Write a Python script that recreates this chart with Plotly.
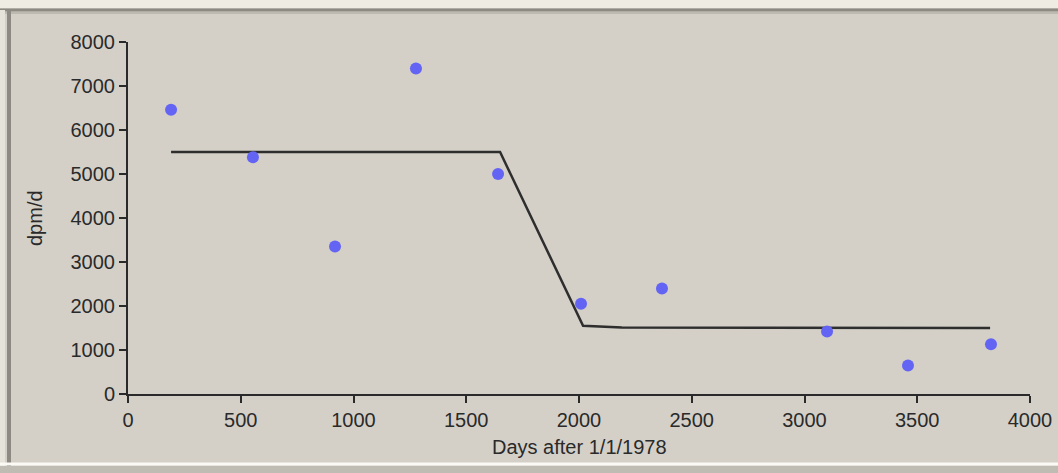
import plotly.graph_objects as go

days = [191, 554, 918, 1277, 1641, 2009, 2368, 3100, 3459, 3827]
dpm = [6460, 5380, 3350, 7400, 5000, 2050, 2400, 1420, 650, 1130]

fit_days = [191, 1650, 2018, 2190, 3823]
fit_dpm = [5500, 5500, 1550, 1510, 1500]

x_ticks = [0, 500, 1000, 1500, 2000, 2500, 3000, 3500, 4000]
y_ticks = [0, 1000, 2000, 3000, 4000, 5000, 6000, 7000, 8000]

bg = "#d4d0c8"
FONT = "Liberation Sans, Arial, sans-serif"
PW, PH = 902, 352

fig = go.Figure()
fig.add_trace(go.Scatter(x=fit_days, y=fit_dpm, mode="lines",
                         line=dict(color="#2e2e2e", width=2.5), hoverinfo="skip"))
fig.add_trace(go.Scatter(x=days, y=dpm, mode="markers",
                         marker=dict(color="#6464f4", size=12, symbol="circle",
                                     line=dict(width=0))))

axis_common = dict(showgrid=False, zeroline=False, showline=True, linecolor="#2a2a2a",
                   linewidth=2, ticks="outside", ticklen=7, tickwidth=2, tickcolor="#2a2a2a",
                   automargin=False,
                   tickfont=dict(family=FONT, size=20, color="#2a2a2a"))
fig.update_xaxes(range=[0, 4000], tickvals=x_ticks, **axis_common)
fig.update_yaxes(range=[0, 8000], tickvals=y_ticks, **axis_common)

fig.update_layout(
    width=1058, height=473,
    margin=dict(l=128, r=28, t=42, b=79, autoexpand=False),
    paper_bgcolor=bg, plot_bgcolor=bg,
    showlegend=False,
    annotations=[
        dict(text="Days after 1/1/1978", xref="paper", yref="paper",
             x=0.5, y=-53 / PH, xanchor="center", yanchor="middle", showarrow=False,
             font=dict(family=FONT, size=20, color="#2a2a2a")),
        dict(text="dpm/d", xref="paper", yref="paper", textangle=-90,
             x=-93 / PW, y=0.5, xanchor="center", yanchor="middle", showarrow=False,
             font=dict(family=FONT, size=20, color="#2a2a2a")),
    ],
    shapes=[
        dict(type="rect", xref="paper", yref="paper", x0=-0.2, x1=1.05,
             y0=1 + 34 / PH, y1=1 + 44 / PH, line=dict(width=0), fillcolor="#efece3"),
        dict(type="line", xref="paper", yref="paper", x0=-0.2, x1=1.05,
             y0=1 + 32 / PH, y1=1 + 32 / PH, line=dict(color="#8c8a82", width=3)),
        dict(type="line", xref="paper", yref="paper", x0=-0.2, x1=1.05,
             y0=1 + 29 / PH, y1=1 + 29 / PH, line=dict(color="#bdbab2", width=2)),
        dict(type="rect", xref="paper", yref="paper", x0=-128 / PW, x1=-123 / PW,
             y0=-0.3, y1=1 + 32 / PH, line=dict(width=0), fillcolor="#e6e3da"),
        dict(type="line", xref="paper", yref="paper", x0=-119 / PW, x1=-119 / PW,
             y0=-0.3, y1=1 + 32 / PH, line=dict(color="#8c8a82", width=4)),
        dict(type="line", xref="paper", yref="paper", x0=-0.2, x1=1.05,
             y0=-70 / PH, y1=-70 / PH, line=dict(color="#fbfaf5", width=3)),
        dict(type="rect", xref="paper", yref="paper", x0=-0.2, x1=1.05,
             y0=-79 / PH, y1=-72 / PH, line=dict(width=0), fillcolor="#bfbcb4"),
    ],
)
fig.write_html("out.html",
               config={"displayModeBar": False, "responsive": False},
               post_script="document.body.style.margin='0';document.body.style.overflow='hidden';")
